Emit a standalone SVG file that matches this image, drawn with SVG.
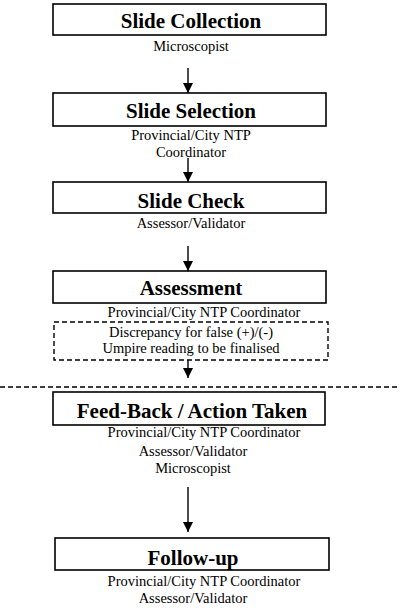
<svg xmlns="http://www.w3.org/2000/svg" width="400" height="609" viewBox="0 0 400 609">
<defs>
<marker id="ah" viewBox="0 0 10 10" refX="10" refY="5" markerWidth="10" markerHeight="10" markerUnits="userSpaceOnUse" orient="auto">
<path d="M0,0 L10,5 L0,10 Z" fill="#000"/>
</marker>
<style>
.box{fill:#fff;stroke:#000;stroke-width:1.6}
.dbox{fill:none;stroke:#000;stroke-width:1.4;stroke-dasharray:5,3}
.t{font-family:"Liberation Serif","Times New Roman",serif;font-weight:bold;font-size:21px;text-anchor:middle;fill:#000}
.s{font-family:"Liberation Serif","Times New Roman",serif;font-size:14.5px;text-anchor:middle;fill:#000}
.c{stroke:#000;stroke-width:1.4;fill:none}
</style>
</defs>
<g id="connectors">
<line class="c" x1="188" y1="68" x2="188" y2="93" marker-end="url(#ah)"/>
<line class="c" x1="188" y1="158" x2="188" y2="182" marker-end="url(#ah)"/>
<line class="c" x1="188" y1="246" x2="188" y2="271" marker-end="url(#ah)"/>
<line class="c" x1="188" y1="360" x2="188" y2="378" marker-end="url(#ah)"/>
<line class="c" x1="188" y1="487" x2="188" y2="532" marker-end="url(#ah)"/>
<line class="c" x1="0" y1="387" x2="400" y2="387" stroke-dasharray="5,3"/>
</g>
<g id="slide-collection">
<rect class="box" x="53" y="4" width="273" height="31"/>
<text class="t" x="191" y="28">Slide Collection</text>
<text class="s" x="191" y="51">Microscopist</text>
</g>
<g id="slide-selection">
<rect class="box" x="53" y="93" width="273" height="33"/>
<text class="t" x="191" y="118">Slide Selection</text>
<text class="s" x="191" y="140">Provincial/City NTP</text>
<text class="s" x="191" y="157">Coordinator</text>
</g>
<g id="slide-check">
<rect class="box" x="53" y="182" width="273" height="31"/>
<text class="t" x="191" y="208">Slide Check</text>
<text class="s" x="191" y="228">Assessor/Validator</text>
</g>
<g id="assessment">
<rect class="box" x="53" y="271" width="273" height="32"/>
<text class="t" x="191" y="295">Assessment</text>
<text class="s" x="204" y="317">Provincial/City NTP Coordinator</text>
</g>
<g id="discrepancy">
<rect class="dbox" x="54" y="322" width="274" height="38"/>
<text class="s" x="191" y="337">Discrepancy for false (+)/(-)</text>
<text class="s" x="191" y="353">Umpire reading to be finalised</text>
</g>
<g id="feedback">
<rect class="box" x="53" y="392" width="272" height="33"/>
<text class="t" x="192" y="418">Feed-Back / Action Taken</text>
<text class="s" x="204" y="437">Provincial/City NTP Coordinator</text>
<text class="s" x="193" y="456">Assessor/Validator</text>
<text class="s" x="193" y="473">Microscopist</text>
</g>
<g id="follow-up">
<rect class="box" x="55" y="538" width="274" height="32"/>
<text class="t" x="193" y="565">Follow-up</text>
<text class="s" x="204" y="586">Provincial/City NTP Coordinator</text>
<text class="s" x="193" y="603">Assessor/Validator</text>
</g>
</svg>
